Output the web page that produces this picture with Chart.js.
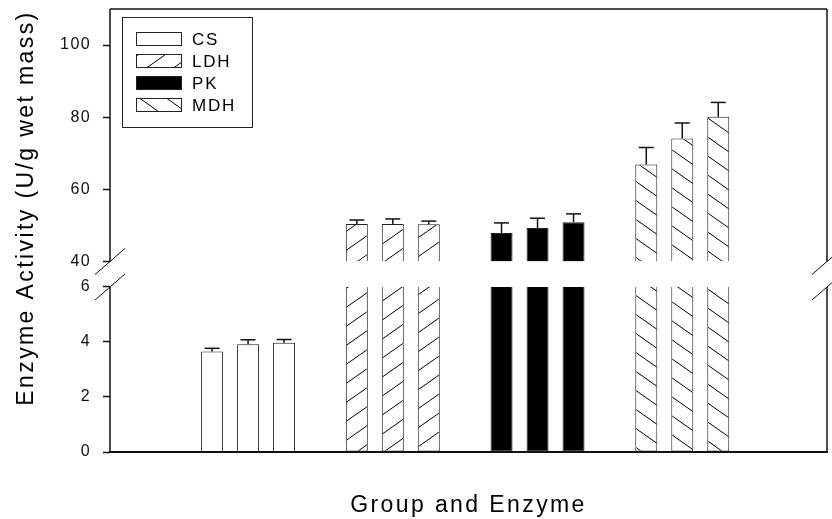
<!DOCTYPE html>
<html>
<head>
    <title>Enzyme Activity</title>
    <meta charset="UTF-8">
    <script src="https://cdn.jsdelivr.net/npm/chart.js"></script>
    <style>
        body {
            margin: 0;
            padding: 0;
            background: white;
        }
    </style>
</head>
<body>
    <canvas id="myChart" width="832" height="519"></canvas>

    <script>
        // Data
        var categories = ['CS', 'LDH', 'PK', 'MDH'];
        var group1 = [3.65, 50.4, 47.9, 66.9];
        var group2 = [3.92, 50.4, 49.3, 74.1];
        var group3 = [3.97, 50.3, 50.9, 80.1];
        var err1 = [0.12, 1.1, 2.8, 4.7];
        var err2 = [0.16, 1.4, 2.7, 4.3];
        var err3 = [0.12, 0.9, 2.3, 4.0];
        var lowTicks = [0, 2, 4, 6];
        var highTicks = [40, 60, 80, 100];
        var lowBreak = 6;
        var highBreak = 40;
        var highTop = 110;

        var FONT = "'Liberation Sans', Arial, sans-serif";

        // hatch patterns
        function makeHatch(forward) {
            var w = 27, h = 19;
            var c = document.createElement('canvas');
            c.width = w;
            c.height = h;
            var g = c.getContext('2d');
            g.fillStyle = '#fff';
            g.fillRect(0, 0, w, h);
            g.strokeStyle = '#000';
            g.lineWidth = 1;
            for (var k = -1; k <= 1; k++) {
                g.beginPath();
                if (forward) {
                    g.moveTo(0, h + k * h);
                    g.lineTo(w, k * h);
                } else {
                    g.moveTo(0, k * h);
                    g.lineTo(w, h + k * h);
                }
                g.stroke();
            }
            return g.createPattern(c, 'repeat');
        }

        var fills = ['#ffffff', makeHatch(true), '#000000', makeHatch(false)];

        var groups = [group1, group2, group3];
        var errors = [err1, err2, err3];

        var datasets = [];
        groups.forEach(function (vals, g) {
            // part below the break
            datasets.push({
                label: 'low' + g,
                stack: 'g' + g,
                yAxisID: 'yLow',
                data: vals.map(function (v, i) {
                    return { x: i + 1, y: Math.min(v, lowBreak) };
                }),
                backgroundColor: fills,
                borderColor: '#222',
                borderWidth: 1,
                borderSkipped: function (ctx) {
                    return vals[ctx.dataIndex] > lowBreak ? 'top' : 'start';
                }
            });
            // part above the break
            datasets.push({
                label: 'high' + g,
                stack: 'g' + g,
                yAxisID: 'yHigh',
                data: vals.map(function (v, i) {
                    return { x: i + 1, y: v > highBreak ? [highBreak, v] : null };
                }),
                backgroundColor: fills,
                borderColor: '#222',
                borderWidth: 1,
                borderSkipped: 'start'
            });
        });

        function line(ctx, x1, y1, x2, y2) {
            ctx.beginPath();
            ctx.moveTo(x1, y1);
            ctx.lineTo(x2, y2);
            ctx.stroke();
        }

        var decorPlugin = {
            id: 'decor',
            beforeDraw: function (chart) {
                chart.ctx.letterSpacing = '1.4px';
            },
            afterDatasetsDraw: function (chart) {
                var ctx = chart.ctx;
                var area = chart.chartArea;
                var yLow = chart.scales.yLow;
                var yHigh = chart.scales.yHigh;
                var yHi = yHigh.getPixelForValue(highBreak);
                var yLo = yLow.getPixelForValue(lowBreak);

                ctx.save();
                ctx.strokeStyle = '#111';

                // error bars (upper whisker only)
                ctx.lineWidth = 1.5;
                groups.forEach(function (vals, g) {
                    vals.forEach(function (v, i) {
                        var tall = v > highBreak;
                        var meta = chart.getDatasetMeta(g * 2 + (tall ? 1 : 0));
                        var bar = meta.data[i];
                        var scale = tall ? yHigh : yLow;
                        var y0 = scale.getPixelForValue(v);
                        var y1 = scale.getPixelForValue(v + errors[g][i]);
                        line(ctx, bar.x, y0, bar.x, y1);
                        line(ctx, bar.x - 7.5, y1, bar.x + 7.5, y1);
                    });
                });

                // frame with breaks
                ctx.lineWidth = 1.5;
                line(ctx, area.left, area.top, area.right, area.top);
                line(ctx, area.left, area.top, area.left, yHi);
                line(ctx, area.left, yLo, area.left, area.bottom);
                line(ctx, area.right, area.top, area.right, yHi);
                line(ctx, area.right, yLo, area.right, area.bottom);
                ctx.lineWidth = 2;
                line(ctx, area.left - 1, area.bottom, area.right + 1, area.bottom);
                ctx.lineWidth = 1;
                [area.left, area.right].forEach(function (x) {
                    [yHi, yLo].forEach(function (y) {
                        line(ctx, x - 15, y + 13, x + 15, y - 13);
                    });
                });

                // legend
                var lx = area.left + 12, ly = area.top + 8;
                ctx.lineWidth = 1;
                ctx.strokeStyle = '#222';
                ctx.strokeRect(lx + 0.5, ly + 0.5, 130, 110);
                ctx.font = '17px ' + FONT;
                ctx.letterSpacing = '1.8px';
                ctx.fillStyle = '#000';
                ctx.textAlign = 'left';
                ctx.textBaseline = 'middle';
                categories.forEach(function (name, k) {
                    var cy = ly + 22 + k * 22;
                    ctx.fillStyle = fills[k];
                    ctx.fillRect(lx + 14, cy - 6.5, 45, 13);
                    ctx.strokeRect(lx + 14.5, cy - 6.5, 45, 13);
                    ctx.fillStyle = '#000';
                    ctx.fillText(name, lx + 70, cy + 1);
                });

                // axis titles
                ctx.font = '23px ' + FONT;
                ctx.letterSpacing = '2.4px';
                ctx.textAlign = 'center';
                ctx.textBaseline = 'alphabetic';
                ctx.fillText('Group and Enzyme', (area.left + area.right) / 2, 512);
                ctx.translate(33, 208);
                ctx.rotate(-Math.PI / 2);
                ctx.fillText('Enzyme Activity (U/g wet mass)', 0, 0);
                ctx.restore();
            },
            afterDraw: function (chart) {
                chart.ctx.letterSpacing = '0px';
            }
        };

        function yAxis(ticks, weight, min, max) {
            return {
                type: 'linear',
                position: 'left',
                stack: 'y',
                stackWeight: weight,
                stacked: false,
                min: min,
                max: max,
                afterBuildTicks: function (scale) {
                    scale.ticks = ticks.map(function (v) { return { value: v }; });
                },
                afterFit: function (scale) {
                    scale.width = 110;
                    scale.paddingTop = 0;
                    scale.paddingBottom = 0;
                },
                border: { display: false },
                grid: {
                    drawOnChartArea: false,
                    tickLength: 7,
                    tickColor: '#111',
                    tickWidth: 1.5
                },
                ticks: {
                    padding: 12,
                    color: '#111',
                    font: { family: FONT, size: 16 }
                }
            };
        }

        var ctx = document.getElementById('myChart').getContext('2d');
        var myChart = new Chart(ctx, {
            type: 'bar',
            data: { datasets: datasets },
            options: {
                responsive: false,
                animation: false,
                devicePixelRatio: 1,
                categoryPercentage: 0.746,
                barPercentage: 0.611,
                layout: { padding: { top: 9, right: 5, bottom: 67, left: 0 } },
                plugins: {
                    legend: { display: false },
                    tooltip: { enabled: false }
                },
                scales: {
                    x: {
                        type: 'linear',
                        min: 0.046,
                        max: 5,
                        offset: false,
                        display: false,
                        afterBuildTicks: function (scale) {
                            scale.ticks = categories.map(function (c, i) { return { value: i + 1 }; });
                        }
                    },
                    yLow: yAxis(lowTicks, 190.5, 0, 6.927),
                    yHigh: yAxis(highTicks, 252.5, highBreak, highTop)
                }
            },
            plugins: [decorPlugin]
        });
    </script>
</body>
</html>
